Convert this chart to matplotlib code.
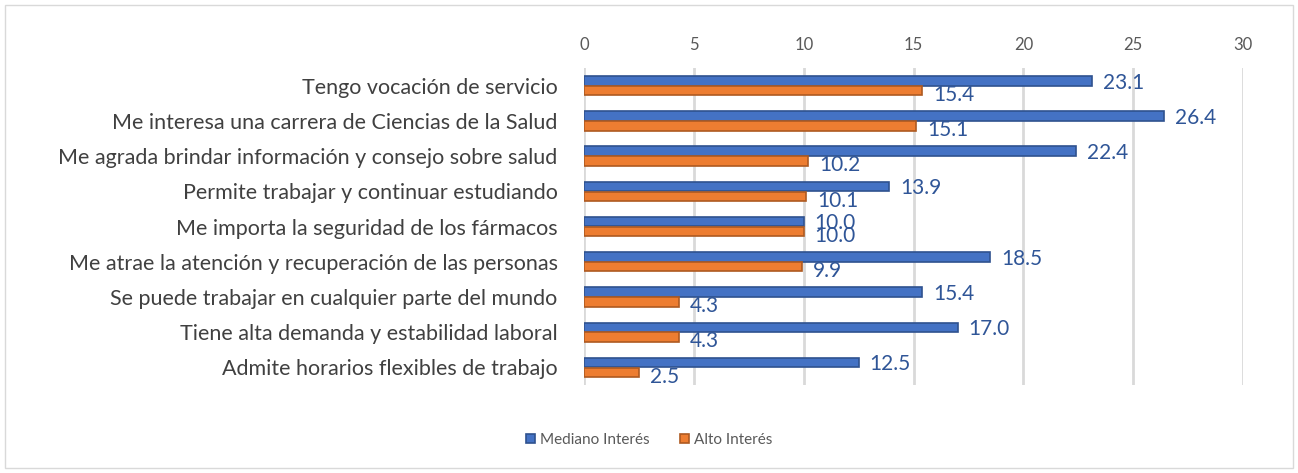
import matplotlib
matplotlib.use("Agg")
import matplotlib.pyplot as plt
import numpy as np
from matplotlib.patches import Rectangle

# ============================================
# DATA
# ============================================
categories = [
    "Tengo vocación de servicio",
    "Me interesa una carrera de Ciencias de la Salud",
    "Me agrada brindar información y consejo sobre salud",
    "Permite trabajar y continuar estudiando",
    "Me importa la seguridad de los fármacos",
    "Me atrae la atención y recuperación de las personas",
    "Se puede trabajar en cualquier parte del mundo",
    "Tiene alta demanda y estabilidad laboral",
    "Admite horarios flexibles de trabajo",
]
mediano = [23.1, 26.4, 22.4, 13.9, 10.0, 18.5, 15.4, 17.0, 12.5]
alto = [15.4, 15.1, 10.2, 10.1, 10.0, 9.9, 4.3, 4.3, 2.5]
series_names = ["Mediano Interés", "Alto Interés"]
x_ticks = [0, 5, 10, 15, 20, 25, 30]

BLUE = "#4472C4"
ORANGE = "#ED7D31"
LABEL_BLUE = "#2F5597"
TEXT_GREY = "#595959"

plt.rcParams['font.family'] = ['Lato', 'DejaVu Sans']

fig = plt.figure(figsize=(12.98, 4.73), dpi=100)
ax = fig.add_axes([0.450, 0.186, 0.5077, 0.670])

y = np.arange(len(categories))
h = 0.27
off = 0.14

ax.barh(y - off, mediano, height=h, color=BLUE, edgecolor="#2F528F",
        linewidth=1.2, label=series_names[0], zorder=3)
ax.barh(y + off, alto, height=h, color=ORANGE, edgecolor="#AE5A21",
        linewidth=1.2, label=series_names[1], zorder=3)

for i in range(len(categories)):
    ax.text(mediano[i] + 0.5, y[i] - off + 0.05, f"{mediano[i]:.1f}",
            color=LABEL_BLUE, fontsize=15, va="center", ha="left", zorder=4)
    ax.text(alto[i] + 0.5, y[i] + off + 0.12, f"{alto[i]:.1f}",
            color=LABEL_BLUE, fontsize=15, va="center", ha="left", zorder=4)

ax.set_xlim(0, 30)
ax.set_ylim(len(categories) - 0.5, -0.5)
ax.set_xticks(x_ticks)
ax.xaxis.tick_top()
ax.tick_params(axis="x", length=0, labelsize=12, labelcolor=TEXT_GREY, pad=11)
ax.set_yticks(y)
ax.set_yticklabels(categories, fontsize=15.5, color="#404040")
ax.tick_params(axis="y", length=0, pad=19)
ax.grid(axis="x", color="#D9D9D9", linewidth=2, zorder=0)
for s in ax.spines.values():
    s.set_visible(False)

leg = ax.legend(loc="center", bbox_to_anchor=(0.5, 0.07), bbox_transform=fig.transFigure,
                ncol=2, frameon=False, fontsize=11, handlelength=0.6, handleheight=0.6,
                handletextpad=0.3, columnspacing=2.0)
for t in leg.get_texts():
    t.set_color(TEXT_GREY)

fig.patches.append(Rectangle((0.004, 0.01), 0.992, 0.98, transform=fig.transFigure,
                             fill=False, edgecolor="#D9D9D9", linewidth=1))

fig.savefig("out.png", dpi=100)
